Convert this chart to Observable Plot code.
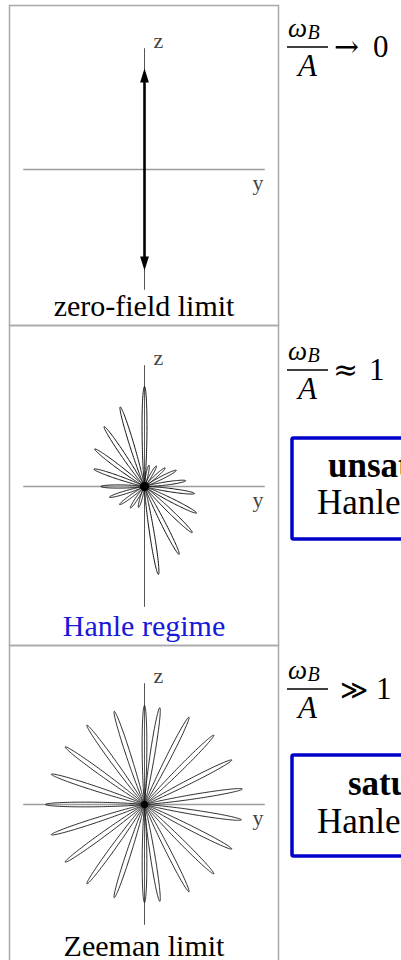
<!DOCTYPE html>
<html>
<head>
<meta charset="utf-8">
<script src="https://cdn.jsdelivr.net/npm/d3@7"></script>
<script src="https://cdn.jsdelivr.net/npm/@observablehq/plot@0.6"></script>
<style>
  body { margin: 0; background: #fff; overflow: hidden; }
  #fig { position: relative; width: 401px; height: 960px; overflow: hidden; background: #fff;
         font-family: "Liberation Serif", "DejaVu Serif", serif; }
  .panel { position: absolute; left: 9px; }
  #notes { position: absolute; left: 0; top: 0; pointer-events: none; }
</style>
</head>
<body>
<div id="fig"></div>
<script>
// ---- regimes (one panel each, top to bottom) ----
const regimes = ["zero-field limit", "Hanle regime", "Zeeman limit"];
const regimeColors = ["#000000", "#1818d8", "#000000"];
const relationSymbols = ["\u2192", "\u2248", "\u226B"];
const relationValues = ["0", "1", "1"];
const boxTitles = [null, "unsaturated", "saturated"];
const boxSubtitles = [null, "Hanle effect", "Hanle effect"];

// zero-field limit: a single dipole along z, pointing both ways
const dipoleTips = [1.02, -1.02];

// Hanle regime: lobe direction (degrees clockwise from +z) and lobe length
const hanleAngles  = [12, 30, 48, 63, 82, 98, 117, 134, 153, 171,
                      196, 213, 234, 253, 270, 289, 307, 326, 343, 360];
const hanleLengths = [0.22, 0.24, 0.28, 0.36, 0.42, 0.51, 0.59, 0.67, 0.77, 0.90,
                      0.22, 0.26, 0.31, 0.37, 0.44, 0.54, 0.63, 0.73, 0.84, 1.01];

// Zeeman limit: lobes spread evenly around the full circle
const zeemanAngles  = [0, 9, 27, 45, 63, 81, 99, 117, 135, 153, 171,
                       180, 198, 216, 234, 252, 270, 288, 306, 324, 342];
const zeemanLengths = [1.00, 0.99, 0.99, 0.99, 0.99, 1.00, 0.99, 0.99, 0.99, 0.99, 0.99,
                       0.99, 0.99, 0.99, 0.99, 0.99, 1.00, 0.99, 0.99, 0.99, 0.99];

const AXIS = 1.22;          // half-length of the y and z axes
const PX = 99;              // pixels per unit
const panelCenters = [164, 161, 159];  // z = 0 inside each panel
const fontFamily = '"Liberation Serif", "DejaVu Serif", serif';
const symbolFamily = '"DejaVu Serif", "Liberation Serif", serif';

// narrow lobe r = L cos^n(delta) around a direction, as a closed outline
function lobe(id, bearing, len, n) {
  const a = bearing * Math.PI / 180;
  const dmax = Math.acos(Math.pow(0.002, 1 / n));
  const pts = [{id, y: 0, z: 0}];
  const N = 180;
  for (let i = 0; i <= N; i++) {
    const d = -dmax + 2 * dmax * i / N;
    const r = len * Math.pow(Math.cos(d), n);
    pts.push({id, y: r * Math.sin(a + d), z: r * Math.cos(a + d)});
  }
  pts.push({id, y: 0, z: 0});
  return pts;
}
// sharpness grows with length, so short lobes stay a little fuller
function lobes(angles, lengths, k) {
  return angles.flatMap((ang, i) => lobe(i, ang, lengths[i], Math.max(60, k * lengths[i])));
}

// filled arrowhead with its tip at the anchor point
const arrowHead = {
  draw(context) {
    context.moveTo(0, 0);
    context.lineTo(-4.4, 14);
    context.lineTo(4.4, 14);
    context.closePath();
  }
};

function panel(i, marks) {
  const cy = panelCenters[i];
  return Plot.plot({
    width: 269, height: 320, margin: 0,
    x: {domain: [-1, 1], range: [135 - PX, 135 + PX], axis: null},
    y: {domain: [-1, 1], range: [cy + PX, cy - PX], axis: null},
    style: {background: "transparent", overflow: "visible", fontFamily},
    marks: [
      Plot.frame({stroke: "#a9a9a9", strokeWidth: 1.5}),
      Plot.ruleY([0], {x1: -AXIS, x2: AXIS, stroke: "#9c9c9c", strokeWidth: 1.4}),
      Plot.ruleX([0], {y1: -AXIS, y2: AXIS, stroke: "#555", strokeWidth: 1}),
      Plot.text(["z"], {x: 0.09, y: 1.23, text: d => d, textAnchor: "start", lineAnchor: "bottom",
                        fontSize: 22, fill: "#444"}),
      Plot.text(["y"], {x: 1.09, y: -0.21, text: d => d, textAnchor: "start", lineAnchor: "bottom",
                        fontSize: 22, fill: "#444"}),
      ...marks,
      Plot.text([regimes[i]], {frameAnchor: "bottom", dy: -10, lineAnchor: "bottom", text: d => d,
                               fontSize: 30, fill: regimeColors[i]})
    ]
  });
}

const fig = document.getElementById("fig");

const charts = [
  panel(0, [
    Plot.ruleX([0], {y1: dipoleTips[1] + 0.05, y2: dipoleTips[0] - 0.05, stroke: "#000", strokeWidth: 2.6}),
    Plot.dot(dipoleTips, {x: 0, y: d => d, symbol: arrowHead, rotate: d => d > 0 ? 0 : 180,
                          fill: "#000", stroke: "none"})
  ]),
  panel(1, [
    Plot.line(lobes(hanleAngles, hanleLengths, 600), {x: "y", y: "z", z: "id", stroke: "#111",
                                                      strokeWidth: 1, curve: "linear"}),
    Plot.dot([0], {x: 0, y: 0, r: 4.5, fill: "#000", stroke: "none"})
  ]),
  panel(2, [
    Plot.line(lobes(zeemanAngles, zeemanLengths, 650), {x: "y", y: "z", z: "id", stroke: "#151515",
                                                        strokeWidth: 0.9, curve: "linear"}),
    Plot.dot([0], {x: 0, y: 0, r: 3.5, fill: "#000", stroke: "none"})
  ])
];
charts.forEach((c, i) => {
  c.classList.add("panel");
  c.style.top = (5 + 320 * i) + "px";
  fig.appendChild(c);
});

// ---- field-strength relations and regime boxes to the right of each panel ----
const barY = [47, 370, 689];
const symbolX = [334, 333, 340];
const symbolSize = [30, 30, 27];
const valueX = [373, 369, 376];
const notes = d3.select(fig).append("svg")
  .attr("id", "notes").attr("width", 401).attr("height", 960)
  .style("font-family", fontFamily);

barY.forEach((b, i) => {
  const g = notes.append("g");
  const omega = g.append("text").attr("x", 288).attr("y", b - 10).attr("font-size", 27)
    .attr("font-style", "italic").text("\u03C9");
  const ow = omega.node().getComputedTextLength();
  g.append("text").attr("x", 288 + ow + 0.5).attr("y", b - 8).attr("font-size", 20)
    .attr("font-style", "italic").text("B");
  g.append("line").attr("x1", 287).attr("x2", 328).attr("y1", b).attr("y2", b)
    .attr("stroke", "#000").attr("stroke-width", 1.4);
  g.append("text").attr("x", 307.5).attr("y", b + 29).attr("font-size", 31)
    .attr("font-style", "italic").attr("text-anchor", "middle").text("A");
  g.append("text").attr("x", symbolX[i]).attr("y", b + 10).attr("font-size", symbolSize[i])
    .style("font-family", symbolFamily).text(relationSymbols[i]);
  g.append("text").attr("x", valueX[i]).attr("y", b + 10).attr("font-size", 31)
    .text(relationValues[i]);
});

const boxes = [null, {top: 438, bottom: 539, t1: 477, t2: 514, x1: 328},
                     {top: 755, bottom: 856, t1: 795, t2: 833, x1: 348}];
boxes.forEach((bx, i) => {
  if (!bx) return;
  notes.append("rect").attr("x", 292).attr("y", bx.top).attr("width", 220)
    .attr("height", bx.bottom - bx.top).attr("fill", "none")
    .attr("stroke", "#0000cc").attr("stroke-width", 3.5).attr("rx", 1.5);
  notes.append("text").attr("x", bx.x1).attr("y", bx.t1).attr("font-size", 35)
    .attr("font-weight", "bold").text(boxTitles[i]);
  notes.append("text").attr("x", 317).attr("y", bx.t2).attr("font-size", 35)
    .text(boxSubtitles[i]);
});
</script>
</body>
</html>
